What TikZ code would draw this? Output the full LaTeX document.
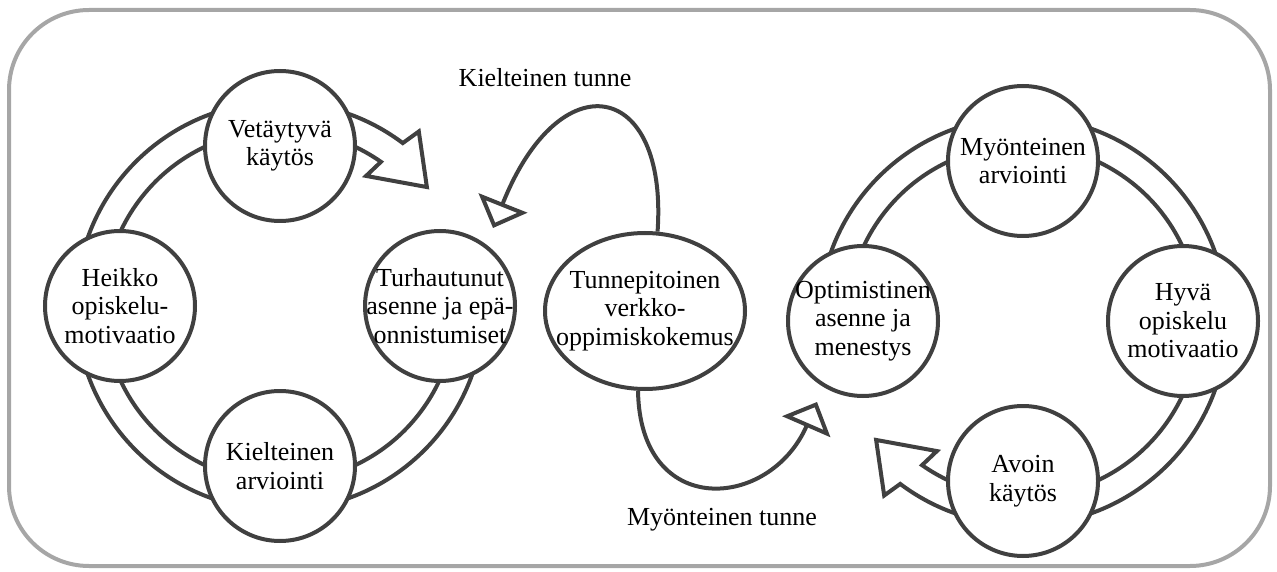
\documentclass[tikz,border=0pt]{standalone}
\usepackage{fontspec}
\setmainfont{Liberation Serif}
\usetikzlibrary{arrows.meta,shapes.geometric}
\definecolor{ink}{HTML}{404040}
\definecolor{rim}{HTML}{A6A6A6}
\newcommand{\ringband}{(-5:204) arc[start angle=-5,end angle=-307,radius=204]
  -- (51.5:223) -- (39:189) -- (56.5:156) -- (55:176)
  arc[start angle=-305,end angle=-5,radius=176] -- cycle}
\tikzset{
  bubble/.style={circle,  draw=ink, line width=4pt, fill=white, minimum size=150pt, inner sep=-14pt, align=center, font=\fontsize{26}{28.5}\selectfont},
  emo/.style   ={ellipse, draw=ink, line width=4pt, fill=white, minimum width=200pt, minimum height=156pt, inner sep=-22pt, align=center, font=\fontsize{26}{28.5}\selectfont},
  band/.style  ={draw=ink, line width=4pt, fill=white},
  lp/.style    ={draw=ink, line width=4pt, -{Triangle[open,length=27pt,width=52pt]}},
  tag/.style   ={font=\fontsize{26}{28.5}\selectfont},
  frame/.style ={draw=rim, line width=4pt, rounded corners=80pt},
}

\begin{document}
\begin{tikzpicture}[x=1pt,y=1pt]
  \useasboundingbox (0,0) rectangle (1277,571);
  \draw[frame] (9,5) rectangle (1270,561);

  % left cycle
  \begin{scope}[shift={(280,265)}]
    \draw[band] \ringband;
    \node[bubble] (vet)     at (90:160)  {Vetäytyvä\\käytös};
    \node[bubble] (heikko)  at (180:160) {Heikko\\opiskelu-\\motivaatio};
    \node[bubble] (kielarv) at (270:160) {Kielteinen\\arviointi};
    \node[bubble] (turh)    at (0:160)   {Turhautunut\\asenne ja epä-\\onnistumiset};
  \end{scope}

  % right cycle
  \begin{scope}[shift={(1023,250)}]
    \draw[band,rotate=180] \ringband;
    \node[bubble] (myonarv) at (90:160)  {Myönteinen\\arviointi};
    \node[bubble] (hyva)    at (0:160)   {Hyvä\\opiskelu\\motivaatio};
    \node[bubble] (avoin)   at (270:160) {Avoin\\käytös};
    \node[bubble] (optim)   at (180:160) {Optimistinen\\asenne ja\\menestys};
  \end{scope}

  \node[emo] (tunne) at (645,260) {Tunnepitoinen\\verkko-\\oppimiskokemus};
  \node[tag] (kt) at (545,493) {Kielteinen tunne};
  \node[tag] (mt) at (722,51)  {Myönteinen tunne};
  \coordinate (kt-tip) at (493,343);
  \coordinate (mt-tip) at (817,169);
  \draw[lp] (tunne.81)  .. controls (668,491) and (560,511) .. (kt-tip);
  \draw[lp] (tunne.265) .. controls (640,51) and (770,61) .. (mt-tip);
\end{tikzpicture}
\end{document}
